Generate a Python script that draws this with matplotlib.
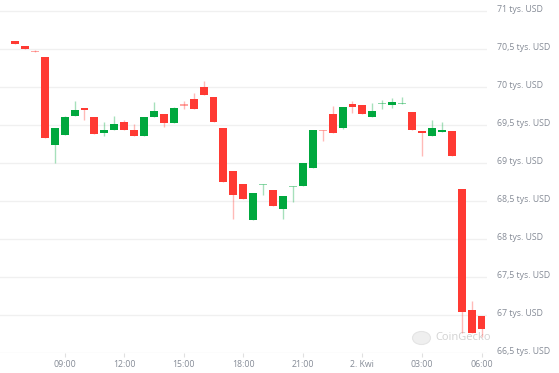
import matplotlib
matplotlib.use("Agg")
import matplotlib.pyplot as plt
from matplotlib.transforms import ScaledTranslation
from matplotlib.patches import Circle
import numpy as np

plt.rcParams["font.family"] = ["Open Sans", "DejaVu Sans"]

# time of each candle in hours since 00:00 of day 1 (30-min candles)
hours = np.arange(6.5, 30.01, 0.5)

opens = [70.60, 70.54, 70.47, 70.40, 69.24, 69.37, 69.62, 69.73, 69.61, 69.39,
         69.43, 69.54, 69.44, 69.35, 69.61, 69.645, 69.52, 69.77, 69.84, 70.00,
         69.87, 69.46, 68.89, 68.73, 68.25, 68.71, 68.645, 68.40, 68.68, 68.70,
         68.93, 69.43, 69.645, 69.46, 69.78, 69.76, 69.60, 69.77, 69.76, 69.77,
         69.67, 69.425, 69.35, 69.405, 69.425, 68.66, 67.06, 66.99]
highs = [70.60, 70.54, 70.49, 70.40, 69.46, 69.62, 69.82, 69.73, 69.61, 69.54,
         69.62, 69.56, 69.51, 69.61, 69.80, 69.645, 69.74, 69.81, 69.92, 70.08,
         69.87, 69.46, 68.89, 68.73, 68.61, 68.73, 68.645, 68.57, 68.70, 69.00,
         69.43, 69.43, 69.75, 69.74, 69.82, 69.76, 69.79, 69.83, 69.85, 69.87,
         69.67, 69.425, 69.57, 69.54, 69.425, 68.66, 67.18, 66.99]
lows = [70.565, 70.50, 70.46, 69.33, 69.00, 69.37, 69.62, 69.57, 69.38, 69.35,
        69.43, 69.43, 69.36, 69.35, 69.61, 69.48, 69.52, 69.71, 69.71, 69.90,
        69.54, 68.75, 68.26, 68.52, 68.25, 68.58, 68.43, 68.26, 68.49, 68.70,
        68.93, 69.29, 69.39, 69.45, 69.66, 69.65, 69.60, 69.71, 69.72, 69.77,
        69.43, 69.09, 69.35, 69.405, 69.09, 66.76, 66.76, 66.71]
closes = [70.565, 70.50, 70.46, 69.33, 69.46, 69.61, 69.70, 69.70, 69.38, 69.43,
          69.51, 69.43, 69.36, 69.61, 69.68, 69.53, 69.72, 69.75, 69.71, 69.90,
          69.54, 68.75, 68.58, 68.52, 68.61, 68.73, 68.43, 68.57, 68.70, 69.00,
          69.43, 69.42, 69.39, 69.74, 69.74, 69.65, 69.68, 69.79, 69.80, 69.79,
          69.43, 69.39, 69.46, 69.435, 69.09, 67.04, 66.76, 66.81]

x_ticks = [9, 12, 15, 18, 21, 24, 27, 30]
x_labels = ["09:00", "12:00", "15:00", "18:00", "21:00", "2. Kwi", "03:00", "06:00"]
y_ticks = [66.5, 67, 67.5, 68, 68.5, 69, 69.5, 70, 70.5, 71]

RED = "#ff3a33"
GREEN = "#00a83e"
TXT = "#858b96"

fig = plt.figure(figsize=(5.59, 3.73), dpi=100)
ax = fig.add_axes([0, 20 / 373, 487 / 559, 353 / 373])

ax.set_xlim(5.744, 30.277)
ax.set_ylim(66.5, 66.5 + 353 / 76)

for y in y_ticks:
    ax.axhline(y, color="#f0f0f0", lw=1, zorder=0)

width = 0.40
for t, o, h, l, c in zip(hours, opens, highs, lows, closes):
    col = GREEN if c >= o else RED
    body = abs(c - o)
    alpha = 0.45 if body < 0.025 else 1.0
    ax.vlines(t, l, h, color=col, lw=1, alpha=0.35, zorder=2)
    hgt = max(body, 0.02)
    bot = min(o, c) if body >= 0.02 else (o + c) / 2 - 0.01
    ax.bar(t, hgt, bottom=bot, width=width, color=col, alpha=alpha,
           edgecolor="none", zorder=3)

# watermark
ax.add_patch(Circle((421.5 / 487, 1 - 338 / 353), 9 / 487, transform=ax.transAxes,
                    facecolor="#efefef", edgecolor="#e4e4e4", lw=0.8, zorder=1))
ax.text(435 / 487, 1 - 337 / 353, "CoinGecko", transform=ax.transAxes,
        color="#d2d2d2", fontsize=8, va="center", ha="left", zorder=1)

for s in ax.spines.values():
    s.set_visible(False)

ax.set_xticks(x_ticks)
ax.set_xticklabels(x_labels)
ax.tick_params(axis="x", length=3, color="#e0e0e0", labelsize=6.3,
               labelcolor=TXT, pad=2)

ax.yaxis.tick_right()
ax.set_yticks(y_ticks)
ax.set_yticklabels([(f"{v:g}".replace(".", ",")) + " tys. USD" for v in y_ticks])
ax.tick_params(axis="y", length=0, labelsize=6.3, labelcolor=TXT, pad=7)
off = ScaledTranslation(0, 3 / 100, fig.dpi_scale_trans)
for lab in ax.get_yticklabels():
    lab.set_transform(lab.get_transform() + off)

fig.savefig("out.png", dpi=100)
